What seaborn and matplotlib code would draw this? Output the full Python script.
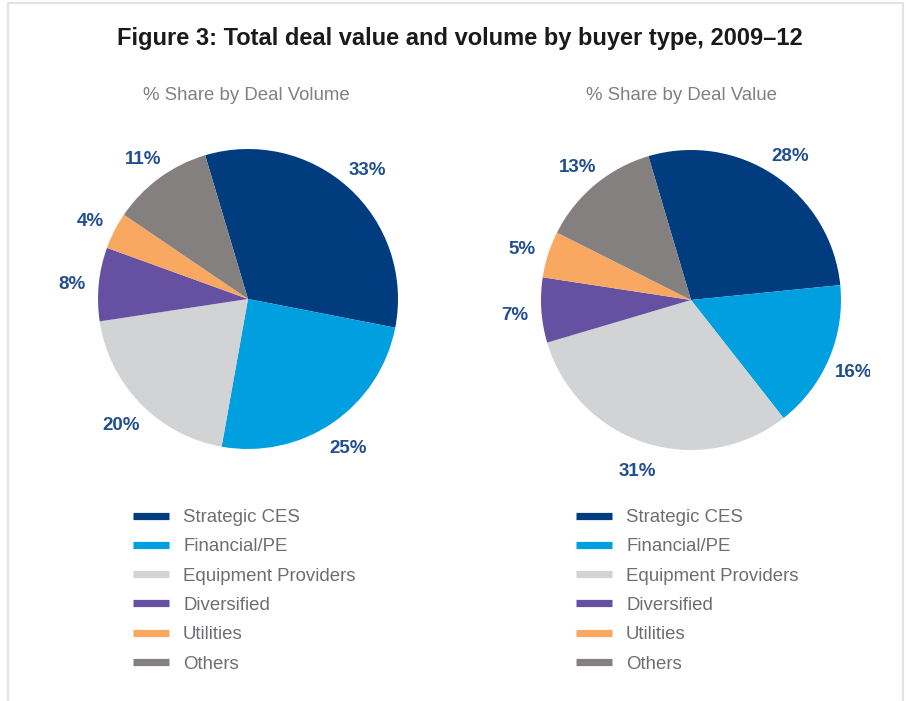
import matplotlib
matplotlib.use("Agg")
import matplotlib.pyplot as plt
import seaborn as sns
from matplotlib.lines import Line2D
from matplotlib.patches import Rectangle
from matplotlib.transforms import Bbox, TransformedBbox

# ---- data ----
categories = ["Strategic CES", "Financial/PE", "Equipment Providers",
              "Diversified", "Utilities", "Others"]
volume_share = [33, 25, 20, 8, 4, 11]
value_share = [28, 16, 31, 7, 5, 13]
colors_hex = ["#003c7e", "#009fdf", "#d1d3d4", "#6650a2", "#f9a862", "#858080"]

title = "Figure 3: Total deal value and volume by buyer type, 2009\u201312"
subtitles = ["% Share by Deal Volume", "% Share by Deal Value"]

sns.set_style("white")
plt.rcParams["font.family"] = ["Liberation Sans", "DejaVu Sans"]
palette = sns.color_palette(colors_hex)

W, H = 906, 701
fig = plt.figure(figsize=(W / 100, H / 100), dpi=100)
fig.patch.set_facecolor("white")

# frame
fig.patches.append(Rectangle((8 / W, -0.05), (903 - 8) / W, 1.05 - 3 / H,
                             transform=fig.transFigure, fill=False,
                             edgecolor="#e3e3e3", linewidth=1.6, zorder=0))

fig.text(460 / W, 1 - 38 / H, title, ha="center", va="center",
         fontsize=17, fontweight="bold", color="#1a1a1a")

label_color = "#214f8f"
centers = [(248, 299), (691, 300)]
R = 150
starts = [106.6, 106.5]
datasets = [volume_share, value_share]
sub_x = [246, 681]
leg_x = [133, 576]

for i in range(2):
    cx, cy = centers[i]
    ax = fig.add_axes([(cx - R) / W, (H - cy - R) / H, 2 * R / W, 2 * R / H])
    vals = datasets[i]
    wedges, texts = ax.pie(vals, colors=palette, startangle=starts[i],
                           counterclock=False, labels=[f"{v}%" for v in vals],
                           labeldistance=1.18,
                           wedgeprops=dict(linewidth=0),
                           textprops=dict(fontsize=13.5, fontweight="bold",
                                          color=label_color))
    for t in texts:
        t.set_ha("center")
        t.set_va("center")
        x, y = t.get_position()
        t.set_position((x, y - 0.02))
        if i == 1:
            t.set_clip_on(True)
            t.set_clip_box(TransformedBbox(Bbox([[0, 0], [870 / W, 1]]),
                                           fig.transFigure))
    ax.set_xlim(-1, 1)
    ax.set_ylim(-1, 1)
    ax.set_aspect("equal")
    ax.axis("off")

    fig.text(sub_x[i] / W, 1 - 95 / H, subtitles[i], ha="center", va="center",
             fontsize=13.4, color="#808080")

    handles = [Line2D([0], [0], color=c, linewidth=5.2, solid_capstyle="butt")
               for c in palette]
    leg = fig.legend(handles, categories, loc="upper left",
                     bbox_to_anchor=(leg_x[i] / W, 1 - 509 / H),
                     frameon=False, fontsize=13.4, handlelength=1.94,
                     handletextpad=0.75, labelspacing=0.66, borderpad=0,
                     borderaxespad=0)
    for t in leg.get_texts():
        t.set_color("#6d6e71")

fig.savefig("out.png", dpi=100, facecolor="white")
